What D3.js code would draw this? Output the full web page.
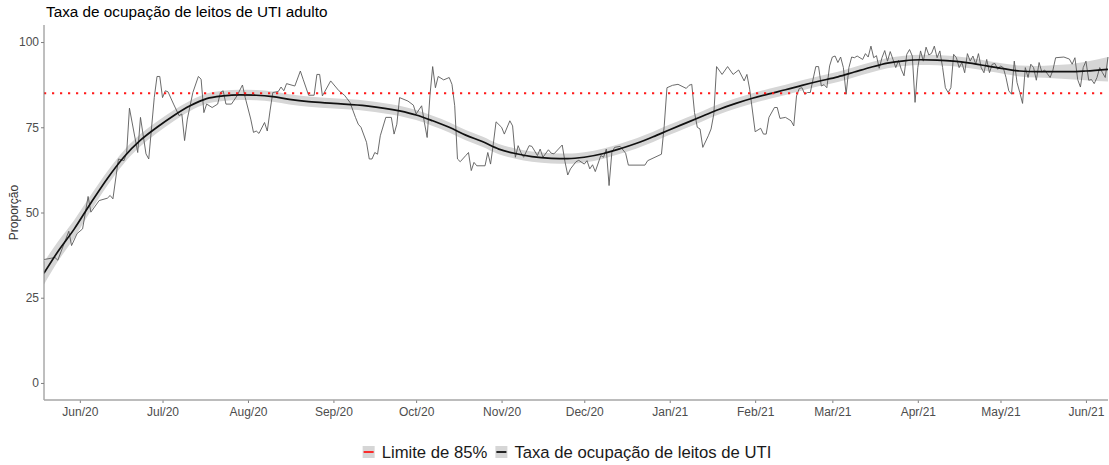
<!DOCTYPE html>
<html><head><meta charset="utf-8">
<script src="https://cdn.jsdelivr.net/npm/d3@7"></script>
<style>
body{margin:0;background:#fff;}
svg{display:block;font-family:"Liberation Sans",Arial,sans-serif;}
</style>
</head><body>
<svg id="chart" width="1109" height="465"></svg>
<script>
// ---- data ----
const chartTitle = "Taxa de ocupação de leitos de UTI adulto";
const yAxisTitle = "Proporção";
const seriesNames = ["Limite de 85%", "Taxa de ocupação de leitos de UTI"];
const limitValue = 85;
const yTicks = [0, 25, 50, 75, 100];
const xTickDates = ["2020-06-01","2020-07-01","2020-08-01","2020-09-01","2020-10-01","2020-11-01","2020-12-01","2021-01-01","2021-02-01","2021-03-01","2021-04-01","2021-05-01","2021-06-01"];
const xTickLabels = ["Jun/20","Jul/20","Aug/20","Sep/20","Oct/20","Nov/20","Dec/20","Jan/21","Feb/21","Mar/21","Apr/21","May/21","Jun/21"];

const dates = [
"2020-05-19","2020-05-23","2020-05-24","2020-05-28","2020-05-29","2020-05-31",
"2020-06-02","2020-06-04","2020-06-05","2020-06-08","2020-06-11","2020-06-12","2020-06-13","2020-06-15","2020-06-17","2020-06-18","2020-06-19","2020-06-22","2020-06-23","2020-06-25","2020-06-26","2020-06-28","2020-06-29","2020-06-30",
"2020-07-01","2020-07-02","2020-07-03","2020-07-05","2020-07-07","2020-07-08","2020-07-09","2020-07-10","2020-07-12","2020-07-14","2020-07-15","2020-07-16","2020-07-17","2020-07-19","2020-07-21","2020-07-22","2020-07-23","2020-07-24","2020-07-26","2020-07-28","2020-07-30","2020-07-31",
"2020-08-02","2020-08-03","2020-08-04","2020-08-05","2020-08-07","2020-08-08","2020-08-09","2020-08-10","2020-08-12","2020-08-13","2020-08-14","2020-08-15","2020-08-18","2020-08-20","2020-08-21","2020-08-23","2020-08-25","2020-08-26","2020-08-27","2020-08-28","2020-08-31",
"2020-09-03","2020-09-05","2020-09-07","2020-09-09","2020-09-10","2020-09-11","2020-09-13","2020-09-14","2020-09-15","2020-09-16","2020-09-17","2020-09-18","2020-09-20","2020-09-22","2020-09-23","2020-09-24","2020-09-25","2020-09-28","2020-09-30",
"2020-10-01","2020-10-03","2020-10-04","2020-10-05","2020-10-06","2020-10-07","2020-10-08","2020-10-09","2020-10-11","2020-10-13","2020-10-14","2020-10-15","2020-10-16","2020-10-17","2020-10-19","2020-10-20","2020-10-21","2020-10-22","2020-10-23","2020-10-26","2020-10-27","2020-10-28","2020-10-29","2020-10-30",
"2020-11-01","2020-11-02","2020-11-04","2020-11-05","2020-11-06","2020-11-07","2020-11-08","2020-11-09","2020-11-11","2020-11-12","2020-11-14","2020-11-15","2020-11-16","2020-11-18","2020-11-19","2020-11-20","2020-11-23","2020-11-24","2020-11-25","2020-11-26","2020-11-28","2020-11-29",
"2020-12-01","2020-12-02","2020-12-03","2020-12-04","2020-12-05","2020-12-07","2020-12-08","2020-12-09","2020-12-10","2020-12-11","2020-12-12","2020-12-14","2020-12-16","2020-12-17","2020-12-23","2020-12-24","2020-12-29","2020-12-30","2020-12-31",
"2021-01-02","2021-01-04","2021-01-07","2021-01-08","2021-01-09","2021-01-10","2021-01-11","2021-01-12","2021-01-13","2021-01-15","2021-01-16","2021-01-17","2021-01-18","2021-01-20","2021-01-22","2021-01-24","2021-01-26","2021-01-28","2021-01-29","2021-01-30",
"2021-02-01","2021-02-03","2021-02-04","2021-02-05","2021-02-06","2021-02-08","2021-02-09","2021-02-10","2021-02-12","2021-02-14","2021-02-15","2021-02-16","2021-02-17","2021-02-18","2021-02-19","2021-02-20","2021-02-21","2021-02-22","2021-02-23","2021-02-24","2021-02-25","2021-02-26","2021-02-27","2021-02-28",
"2021-03-01","2021-03-02","2021-03-03","2021-03-04","2021-03-05","2021-03-06","2021-03-07","2021-03-08","2021-03-09","2021-03-10","2021-03-12","2021-03-13","2021-03-14","2021-03-15","2021-03-16","2021-03-17","2021-03-18","2021-03-19","2021-03-20","2021-03-21","2021-03-22","2021-03-23","2021-03-24","2021-03-25","2021-03-26","2021-03-27","2021-03-28","2021-03-29","2021-03-30","2021-03-31",
"2021-04-01","2021-04-02","2021-04-03","2021-04-04","2021-04-05","2021-04-06","2021-04-07","2021-04-08","2021-04-09","2021-04-10","2021-04-11","2021-04-12","2021-04-13","2021-04-14","2021-04-15","2021-04-16","2021-04-17","2021-04-18","2021-04-19","2021-04-20","2021-04-21","2021-04-22","2021-04-23","2021-04-24","2021-04-25","2021-04-26","2021-04-27","2021-04-28","2021-04-29","2021-04-30",
"2021-05-01","2021-05-02","2021-05-03","2021-05-04","2021-05-05","2021-05-06","2021-05-07","2021-05-08","2021-05-09","2021-05-10","2021-05-11","2021-05-12","2021-05-13","2021-05-14","2021-05-15","2021-05-16","2021-05-17","2021-05-19","2021-05-20","2021-05-21","2021-05-24","2021-05-26","2021-05-27","2021-05-28","2021-05-29","2021-05-30","2021-05-31",
"2021-06-01","2021-06-02","2021-06-03","2021-06-04","2021-06-05","2021-06-06","2021-06-07","2021-06-08","2021-06-09"
];
const occupancy = [
36.2,36.8,36.0,44.5,40.3,43.8,
45.2,54.7,50.1,53.5,54.2,55.0,54.0,65.7,65.2,67.6,80.6,67.6,77.9,67.2,65.7,83.7,89.9,89.9,
83.7,85.7,85.4,81.8,78.4,78.9,71.1,77.4,85.2,89.9,89.1,79.3,81.8,80.8,81.8,85.2,85.7,81.8,81.8,84.2,87.4,83.7,
77.4,73.5,73.9,73.2,76.4,73.9,79.8,85.2,85.5,86.8,85.7,87.8,87.1,91.5,89.1,84.4,84.4,90.5,90.5,84.2,88.6,
85.7,84.4,82.3,77.9,75.9,75.0,70.6,65.7,65.7,67.6,67.1,72.5,77.9,77.9,73.0,75.9,83.7,82.7,81.5,
78.9,81.3,76.4,72.0,84.2,92.8,86.6,89.9,88.9,89.6,87.6,81.3,65.7,64.9,66.7,67.6,62.3,64.7,63.7,63.7,67.6,64.2,70.1,76.6,
75.0,73.0,76.9,75.4,66.2,69.6,67.6,66.2,69.6,69.4,66.7,68.6,66.2,68.4,67.4,67.2,69.8,64.9,61.0,62.8,64.9,65.3,
64.2,65.2,62.8,64.0,62.0,66.7,66.2,68.6,57.9,67.6,69.1,69.4,67.4,63.9,63.9,65.2,67.1,75.4,86.6,
87.3,87.6,86.4,87.3,87.6,79.3,75.0,74.5,69.1,72.5,74.5,78.9,92.8,90.5,92.8,90.5,91.8,88.6,90.5,86.2,
73.7,74.7,73.0,73.0,77.9,80.8,80.8,77.6,77.9,76.9,75.4,84.2,86.4,86.6,84.7,85.2,85.2,89.1,92.8,92.8,87.1,87.5,86.6,93.0,
95.6,95.9,94.0,95.6,92.5,84.7,92.5,95.6,95.4,95.9,94.9,96.6,95.6,98.8,95.4,96.0,92.3,95.4,97.5,94.4,97.2,94.9,92.5,94.6,92.0,90.1,96.4,97.8,95.9,82.3,
92.5,97.4,94.4,98.5,96.2,96.7,98.8,95.4,97.4,92.5,86.6,85.2,86.6,96.4,95.4,92.5,94.0,91.0,96.6,94.4,95.9,93.5,96.6,92.5,91.0,94.9,91.0,93.5,93.7,92.0,
93.0,92.5,89.6,85.7,84.7,94.4,88.1,85.2,82.0,92.5,89.6,93.5,92.5,88.8,94.0,91.2,91.8,89.6,91.7,95.4,95.6,95.0,93.5,95.4,89.0,86.8,92.5,
94.4,88.8,89.0,87.8,89.6,92.5,91.0,89.6,95.6
];

// smoothed trend (loess-like) and its confidence half-width
const smoothDates = ["2020-05-19","2020-05-24","2020-05-30","2020-06-05","2020-06-11","2020-06-17","2020-06-23","2020-06-29","2020-07-05","2020-07-11","2020-07-17","2020-07-23","2020-07-29","2020-08-04","2020-08-10","2020-08-16","2020-08-23","2020-09-01","2020-09-13","2020-09-25","2020-10-01","2020-10-07","2020-10-13","2020-10-19","2020-10-25","2020-10-31","2020-11-06","2020-11-12","2020-11-19","2020-11-25","2020-12-01","2020-12-08","2020-12-14","2020-12-20","2020-12-26","2021-01-01","2021-01-07","2021-01-13","2021-01-19","2021-01-25","2021-01-31","2021-02-06","2021-02-12","2021-02-18","2021-02-24","2021-03-03","2021-03-09","2021-03-15","2021-03-21","2021-03-27","2021-04-02","2021-04-08","2021-04-14","2021-04-20","2021-04-26","2021-05-02","2021-05-08","2021-05-14","2021-05-20","2021-05-26","2021-06-01","2021-06-09"];
const smoothValues = [32.2,38.5,45.2,52.8,60.0,66.3,71.2,75.0,78.4,81.3,83.4,84.2,84.5,84.4,84.0,83.2,82.5,82.0,81.3,79.8,78.6,76.9,75.0,72.7,70.8,68.6,67.3,66.4,65.9,65.8,66.2,67.3,68.7,70.3,72.2,74.3,76.3,78.3,80.3,82.0,83.5,84.8,86.0,87.3,88.5,89.8,91.2,92.6,93.8,94.5,94.8,94.7,94.4,93.8,93.0,92.2,91.5,91.3,91.3,91.3,91.5,92.0];
const smoothHalfWidth = [3.3,2.9,2.6,2.3,2.1,1.9,1.8,1.7,1.6,1.5,1.5,1.5,1.5,1.5,1.5,1.5,1.5,1.5,1.5,1.5,1.5,1.5,1.5,1.5,1.5,1.5,1.5,1.5,1.5,1.5,1.5,1.5,1.5,1.5,1.5,1.5,1.5,1.5,1.5,1.5,1.5,1.5,1.5,1.5,1.5,1.5,1.5,1.5,1.5,1.5,1.5,1.5,1.5,1.5,1.5,1.5,1.6,1.7,1.9,2.2,2.7,3.6];

// ---- drawing ----
const parse = d3.utcParse("%Y-%m-%d");
const W = 1109, H = 465;
const M = {left: 44, right: 1108, top: 25, bottom: 400};
const svg = d3.select("#chart");

const x = d3.scaleUtc()
  .domain([parse(dates[0]), parse(dates[dates.length - 1])])
  .range([M.left, M.right]);
const y = d3.scaleLinear().domain([-5, 105]).range([M.bottom, M.top]);

const raw = dates.map((d, i) => ({date: parse(d), v: occupancy[i]}));
const sm = smoothDates.map((d, i) => ({date: parse(d), v: smoothValues[i], h: smoothHalfWidth[i]}));

svg.append("clipPath").attr("id", "clip").append("rect")
  .attr("x", M.left).attr("y", M.top).attr("width", M.right - M.left + 1).attr("height", M.bottom - M.top);
const plot = svg.append("g").attr("clip-path", "url(#clip)");

// confidence band
plot.append("path").datum(sm)
  .attr("fill", "#d6d6d6")
  .attr("d", d3.area().curve(d3.curveMonotoneX)
    .x(d => x(d.date)).y0(d => y(d.v - d.h)).y1(d => y(d.v + d.h)));

// daily series
plot.append("path").datum(raw)
  .attr("fill", "none").attr("stroke", "#5a5a5a").attr("stroke-width", 0.9)
  .attr("stroke-linejoin", "round")
  .attr("d", d3.line().x(d => x(d.date)).y(d => y(d.v)));

// smooth line
plot.append("path").datum(sm)
  .attr("fill", "none").attr("stroke", "#111").attr("stroke-width", 1.7)
  .attr("d", d3.line().curve(d3.curveMonotoneX).x(d => x(d.date)).y(d => y(d.v)));

// 85% limit
plot.append("line")
  .attr("x1", M.left).attr("x2", M.right).attr("y1", y(limitValue)).attr("y2", y(limitValue))
  .attr("stroke", "#ff1a1a").attr("stroke-width", 2).attr("stroke-dasharray", "2.2,5.8");

// axes
const yAxis = d3.axisLeft(y).tickValues(yTicks).tickSize(3).tickPadding(2).tickFormat(d3.format("d"));
const gy = svg.append("g").attr("transform", `translate(${M.left},0)`).call(yAxis);
gy.select(".domain").remove();
gy.append("line").attr("x1", 0).attr("x2", 0).attr("y1", M.top).attr("y2", M.bottom)
  .attr("stroke", "#7f7f7f").attr("stroke-width", 1);
gy.selectAll(".tick line").attr("stroke", "#7f7f7f");
gy.selectAll(".tick text").attr("fill", "#4d4d4d").style("font-size", "12px")
  .style("font-family", "'Liberation Sans',Arial,sans-serif");

const xAxis = d3.axisBottom(x).tickValues(xTickDates.map(parse)).tickSize(3).tickPadding(4)
  .tickFormat((d, i) => xTickLabels[i]);
const gx = svg.append("g").attr("transform", `translate(0,${M.bottom})`).call(xAxis);
gx.select(".domain").remove();
gx.append("line").attr("x1", M.left).attr("x2", M.right).attr("y1", 0).attr("y2", 0)
  .attr("stroke", "#a6a6a6").attr("stroke-width", 1.6);
gx.selectAll(".tick line").attr("stroke", "#7f7f7f");
gx.selectAll(".tick text").attr("fill", "#4d4d4d").style("font-size", "12px")
  .style("font-family", "'Liberation Sans',Arial,sans-serif");

// titles
svg.append("text").attr("x", 46).attr("y", 17).attr("fill", "#000")
  .style("font-size", "15.3px").text(chartTitle);
svg.append("text").attr("transform", `translate(18,${(y(0) + y(100)) / 2}) rotate(-90)`)
  .attr("text-anchor", "middle").attr("fill", "#333").style("font-size", "12px").text(yAxisTitle);

// legend (centred under the plot)
const legendColors = ["#ff1a1a", "#111"];
const lg = svg.append("g");
let lx = 0;
seriesNames.forEach((name, i) => {
  const g = lg.append("g").attr("transform", `translate(${lx},0)`);
  g.append("rect").attr("width", 12).attr("height", 12).attr("fill", "#d6d6d6");
  g.append("line").attr("x1", 1).attr("x2", 11).attr("y1", 6).attr("y2", 6)
    .attr("stroke", legendColors[i]).attr("stroke-width", 1.8);
  const t = g.append("text").attr("x", 19).attr("y", 12).attr("fill", "#1a1a1a")
    .style("font-size", "16.7px").text(name);
  lx += 19 + t.node().getComputedTextLength() + 8;
});
const lw = lx - 8;
lg.attr("transform", `translate(${567 - lw / 2},446)`);
</script>
</body></html>
